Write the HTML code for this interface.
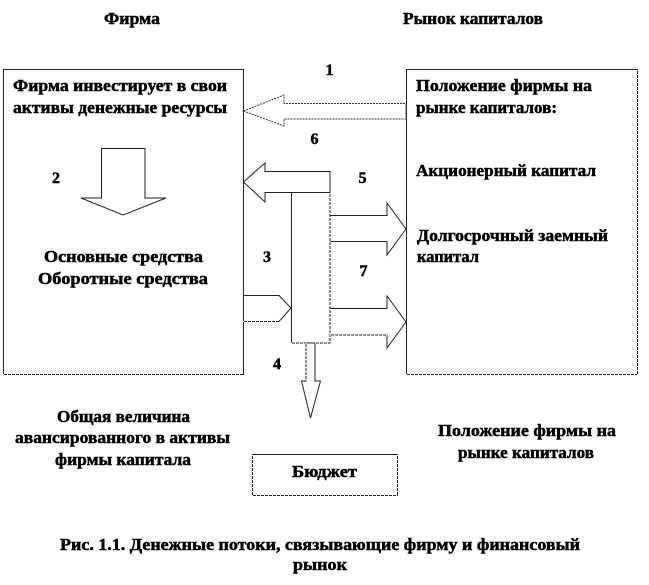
<!DOCTYPE html>
<html lang="ru">
<head>
<meta charset="utf-8">
<style>
html,body{margin:0;padding:0;background:#fff;}
svg{display:block;}
text{font-family:"Liberation Serif","Noto Serif CJK SC",serif;font-weight:bold;font-size:17px;fill:#000;stroke:#000;stroke-width:.5;}
.n{font-size:16px;}
.l{fill:#fff;stroke:#222;stroke-width:1;}
.d{fill:#fff;stroke:#333;stroke-width:1;stroke-dasharray:2 1;}
.o{fill:none;stroke:#fff;stroke-width:1;stroke-dasharray:1 3;}
</style>
</head>
<body>
<svg width="649" height="585" viewBox="0 0 649 585" xmlns="http://www.w3.org/2000/svg">
<rect class="l" x="3.5" y="69.5" width="240" height="305"/>
<rect class="l" x="406.5" y="69.5" width="231" height="305"/>
<rect class="l" x="252.5" y="454.5" width="145" height="41"/>
<path class="o" d="M637.5 70V375M3 374.5H243M406 374.5H637M252.5 455V495M397.5 455V495M252 495.5H397"/>

<polygon class="d" points="243.5,111 284,95 284,103.5 406,103.5 406,119 284,119 284,126"/>
<polygon class="l" points="243.5,182 265,163 265,171.5 330,171.5 330,192.5 265,192.5 265,202"/>
<rect class="l" x="291.5" y="192.5" width="38.5" height="150.5"/>
<polygon class="l" points="330,215.5 387,215.5 387,203 406,229 387,255 387,241.5 330,241.5"/>
<polygon class="l" points="330,308.5 387,308.5 387,296 406,322 387,348 387,335 330,335"/>
<polygon class="l" points="243.5,295.5 279,295.5 291,308 279,321.5 243.5,321.5"/>
<polygon class="l" points="306,343 315,343 315,381 320.5,381 310.5,418 301.5,381 306,381"/>
<polygon class="l" points="101.5,148.5 145,148.5 145,198 166,198 123,215 81,198 101.5,198"/>
<path class="o" d="M330 193V343M330 335H387M291 343H306M315 343H330M243 321.5H279M306 343V381"/>

<g text-anchor="middle">
<text class="n" x="329.5" y="75">1</text>
<text class="n" x="314.5" y="144">6</text>
<text class="n" x="362.5" y="183">5</text>
<text class="n" x="56" y="183">2</text>
<text class="n" x="267" y="262">3</text>
<text class="n" x="363.5" y="276">7</text>
<text class="n" x="277" y="369">4</text>
</g>

<g>
<text x="104" y="24" textLength="56" lengthAdjust="spacingAndGlyphs">Фирма</text>
<text x="403" y="24" textLength="140" lengthAdjust="spacingAndGlyphs">Рынок капиталов</text>
<text x="44" y="262" textLength="159" lengthAdjust="spacingAndGlyphs">Основные средства</text>
<text x="38" y="284" textLength="170" lengthAdjust="spacingAndGlyphs">Оборотные средства</text>
<text x="57" y="422" textLength="133" lengthAdjust="spacingAndGlyphs">Общая величина</text>
<text x="15" y="443" textLength="215" lengthAdjust="spacingAndGlyphs">авансированного в активы</text>
<text x="55" y="465" textLength="136" lengthAdjust="spacingAndGlyphs">фирмы капитала</text>
<text x="438" y="436" textLength="178" lengthAdjust="spacingAndGlyphs">Положение фирмы на</text>
<text x="458" y="458" textLength="136" lengthAdjust="spacingAndGlyphs">рынке капиталов</text>
<text x="292" y="477" textLength="65" lengthAdjust="spacingAndGlyphs">Бюджет</text>
<text x="60" y="550" textLength="520" lengthAdjust="spacingAndGlyphs">Рис. 1.1. Денежные потоки, связывающие фирму и финансовый</text>
<text x="293" y="570" textLength="54" lengthAdjust="spacingAndGlyphs">рынок</text>
<text x="13" y="91" textLength="214" lengthAdjust="spacingAndGlyphs">Фирма инвестирует в свои</text>
<text x="13" y="113" textLength="214" lengthAdjust="spacingAndGlyphs">активы денежные ресурсы</text>
<text x="416" y="91" textLength="176" lengthAdjust="spacingAndGlyphs">Положение фирмы на</text>
<text x="416" y="113" textLength="141" lengthAdjust="spacingAndGlyphs">рынке капиталов:</text>
<text x="416" y="176" textLength="180" lengthAdjust="spacingAndGlyphs">Акционерный капитал</text>
<text x="417" y="241" textLength="191" lengthAdjust="spacingAndGlyphs">Долгосрочный заемный</text>
<text x="417" y="262" textLength="62" lengthAdjust="spacingAndGlyphs">капитал</text>
</g>
</svg>
</body>
</html>
